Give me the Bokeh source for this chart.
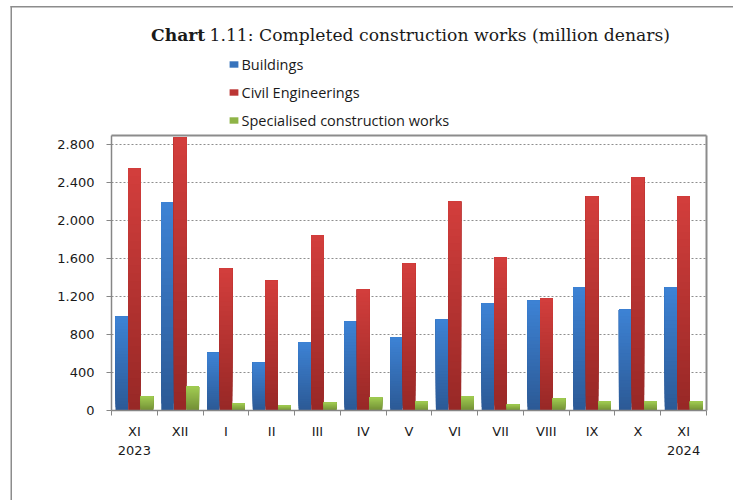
from bokeh.plotting import figure
from bokeh.models import FixedTicker, Label, Legend, LegendItem, BoxAnnotation, Range1d, LinearAxis
from bokeh.embed import file_html
from bokeh.resources import INLINE

# ---- data ----
months = ["XI\n2023", "XII", "I", "II", "III", "IV", "V", "VI", "VII", "VIII", "IX", "X", "XI\n2024"]
buildings = [990, 2200, 610, 505, 720, 940, 770, 960, 1130, 1160, 1300, 1065, 1300]
civil = [2555, 2880, 1500, 1370, 1848, 1277, 1552, 2205, 1614, 1182, 2258, 2459, 2258]
specialised = [148, 253, 74, 53, 84, 137, 95, 148, 63, 127, 95, 95, 95]
series_names = ["Buildings", "Civil Engineerings", "Specialised construction works"]
y_ticks = [0, 400, 800, 1200, 1600, 2000, 2400, 2800]
y_tick_labels = ["0", "400", "800", "1.200", "1.600", "2.000", "2.400", "2.800"]
y_max = 2900

# ---- layout (pixels) ----
W, H = 733, 500
PL, PR, PT, PB = 111, 706, 135, 410   # plot-area box on the canvas
n = len(months)
cat_px = (PR - PL) / n
x0 = -0.5 - PL / cat_px
x1 = x0 + W / cat_px
ypx = y_max / (PB - PT)
y0 = -(H - PB) * ypx
y1 = y0 + H * ypx

p = figure(width=W, height=H, output_backend="svg", toolbar_location=None,
           x_range=Range1d(x0, x1), y_range=Range1d(y0, y1),
           min_border=0, min_border_left=0, min_border_right=0,
           min_border_top=0, min_border_bottom=0)
p.background_fill_color = "white"
p.border_fill_color = "white"
p.outline_line_color = None

AX = "#868686"
# y axis
yax = p.yaxis[0]
yax.fixed_location = -0.5
yax.bounds = (0, y_max)
yax.ticker = FixedTicker(ticks=y_ticks)
yax.major_label_overrides = {t: l for t, l in zip(y_ticks, y_tick_labels)}
yax.minor_tick_line_color = None
yax.major_tick_out = 5
yax.major_tick_in = 0
yax.major_label_standoff = 12
yax.major_tick_line_color = AX

# x axis
xt = list(range(n))
xax = p.xaxis[0]
xax.fixed_location = 0
xax.bounds = (-0.5, n - 0.5)
xax.ticker = FixedTicker(ticks=xt, minor_ticks=[i - 0.5 for i in range(n + 1)])
xax.major_label_overrides = {i: m for i, m in enumerate(months)}
xax.major_tick_line_color = None
xax.major_tick_out = 0
xax.major_tick_in = 0
xax.minor_tick_out = 5
xax.minor_tick_in = 0
xax.minor_tick_line_color = AX
xax.major_label_standoff = 8
xax.major_label_text_line_height = 1.3

for ax in (xax, yax):
    ax.axis_line_color = AX
    ax.axis_line_width = 1.5
    ax.major_label_text_font = "DejaVu Sans"
    ax.major_label_text_font_size = "13px"
    ax.major_label_text_color = "#1a1a1a"

# top and right edges of the plot area
top_ax = LinearAxis(fixed_location=y_max, bounds=(-0.5, n - 0.5), ticker=FixedTicker(ticks=[]),
                    axis_line_color="#8c8c8c", axis_line_width=2,
                    major_tick_line_color=None, minor_tick_line_color=None,
                    major_label_text_font_size="0px")
right_ax = LinearAxis(fixed_location=n - 0.5, bounds=(0, y_max), ticker=FixedTicker(ticks=[]),
                      axis_line_color="#8c8c8c", axis_line_width=2,
                      major_tick_line_color=None, minor_tick_line_color=None,
                      major_label_text_font_size="0px")
p.add_layout(top_ax, "above")
p.add_layout(right_ax, "right")

p.xgrid.grid_line_color = None
p.ygrid.ticker = FixedTicker(ticks=y_ticks[1:])
p.ygrid.bounds = (0, y_max)
p.ygrid.cross_bounds = (-0.5, n - 0.5)
p.ygrid.grid_line_color = "#8e8e8e"
p.ygrid.grid_line_dash = "2 2"
p.ygrid.grid_line_width = 1


def hex2rgb(h):
    h = h.lstrip("#")
    return tuple(int(h[i:i + 2], 16) for i in (0, 2, 4))


def lerp(c1, c2, t):
    a, b = hex2rgb(c1), hex2rgb(c2)
    return "#%02x%02x%02x" % tuple(round(a[i] + (b[i] - a[i]) * t) for i in range(3))


BW = 0.275
styles = [(-BW, "#2c5a96", "#3d82d4"), (0.0, "#982826", "#d23e3c"), (BW, "#738f36", "#a0cb52")]
all_vals = [buildings, civil, specialised]
N = 30
legend_items = []
for vals, (off, dark, light), name in zip(all_vals, styles, series_names):
    xs = [i + off for i in xt]
    mid = None
    for k in range(N):
        frac = k / N
        col = lerp(dark, light, k / (N - 1))
        r = p.vbar(x=xs, width=BW, bottom=[v * frac for v in vals], top=vals,
                   fill_color=col, line_color=None)
        if k == int(N * 0.6):
            mid = r
    legend_items.append(LegendItem(label=name, renderers=[mid]))

legend = Legend(items=legend_items, location=(227.5, H - 130.4), orientation="vertical",
                glyph_width=11, glyph_height=8, label_height=20, spacing=8,
                padding=0, margin=0, label_standoff=3,
                label_text_font="Open Sans", label_text_font_size="14.5px",
                label_text_color="#1a1a1a",
                border_line_color=None, background_fill_alpha=0)
p.add_layout(legend)

# title
p.add_layout(Label(x=150.5, y=H - 34, x_units="screen", y_units="screen", text="Chart",
                   text_font="DejaVu Serif", text_font_style="bold", text_font_size="17.2px",
                   text_baseline="middle", text_color="#1a1a1a"))
p.add_layout(Label(x=209, y=H - 34, x_units="screen", y_units="screen",
                   text="1.11: Completed construction works (million denars)",
                   text_font="DejaVu Serif", text_font_size="17.2px",
                   text_baseline="middle", text_color="#1a1a1a"))

# outer page border (left and top)
p.add_layout(BoxAnnotation(left=10, right=11.5, bottom=0, top=H - 5.5,
                           left_units="screen", right_units="screen",
                           bottom_units="screen", top_units="screen",
                           fill_color="#8c8c8c", fill_alpha=1, line_color=None))
p.add_layout(BoxAnnotation(left=10, right=W, bottom=H - 7, top=H - 5.5,
                           left_units="screen", right_units="screen",
                           bottom_units="screen", top_units="screen",
                           fill_color="#8c8c8c", fill_alpha=1, line_color=None))

open("out.html", "w").write(file_html(p, INLINE))
